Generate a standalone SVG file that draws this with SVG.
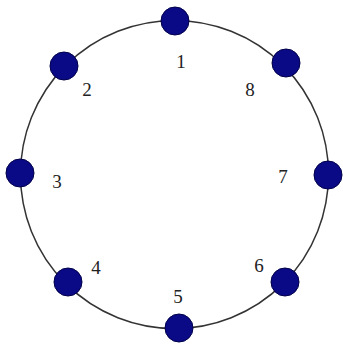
<svg xmlns="http://www.w3.org/2000/svg" width="343" height="347" viewBox="0 0 343 347">
<style>
.ring{fill:none;stroke:#333;stroke-width:1.5}
.node{fill:#0a0a86;stroke:#00004a;stroke-width:1}
.lbl{font-family:"Liberation Serif",serif;font-size:19px;fill:#222;text-anchor:middle}
</style>
<rect width="343" height="347" fill="#fff"/>
<g id="connectors">
<circle class="ring" cx="174.5" cy="174.5" r="154"/>
</g>
<g id="n1"><circle class="node" cx="175" cy="21" r="14"/><text class="lbl" x="181" y="68">1</text></g>
<g id="n2"><circle class="node" cx="64" cy="66" r="14"/><text class="lbl" x="87" y="96">2</text></g>
<g id="n3"><circle class="node" cx="20" cy="173" r="14"/><text class="lbl" x="57" y="188">3</text></g>
<g id="n4"><circle class="node" cx="68" cy="282" r="14"/><text class="lbl" x="96" y="274">4</text></g>
<g id="n5"><circle class="node" cx="179" cy="328" r="14"/><text class="lbl" x="178" y="303">5</text></g>
<g id="n6"><circle class="node" cx="285" cy="282" r="14"/><text class="lbl" x="259" y="272">6</text></g>
<g id="n7"><circle class="node" cx="328" cy="175" r="14"/><text class="lbl" x="283" y="183">7</text></g>
<g id="n8"><circle class="node" cx="286" cy="63" r="14"/><text class="lbl" x="250" y="96">8</text></g>
</svg>
